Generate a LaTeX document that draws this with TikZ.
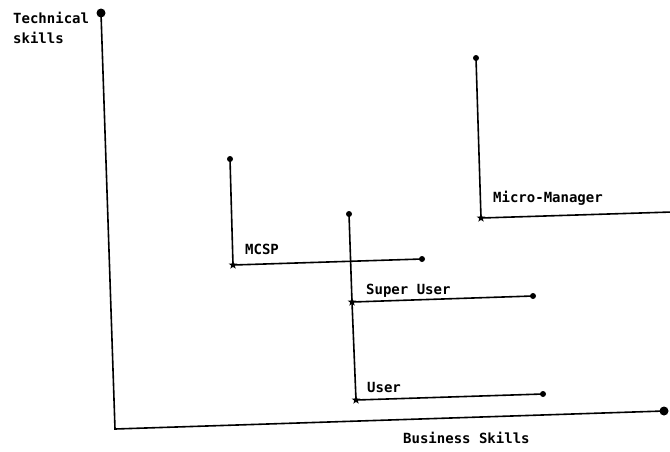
\documentclass[tikz,border=0pt]{standalone}
\usepackage{fontspec}
\setmonofont{DejaVu Sans Mono}
\usetikzlibrary{shapes.geometric}
\tikzset{
  ln/.style={line width=1.6pt, line cap=round},
  enddot/.style={circle, fill, inner sep=0pt, minimum size=6pt},
  bigdot/.style={circle, fill, inner sep=0pt, minimum size=9pt},
  origin/.style={star, star points=5, star point ratio=2.4, fill, inner sep=0pt, minimum size=9pt},
  lbl/.style={anchor=base west, inner sep=0pt, font=\ttfamily\bfseries\fontsize{14}{16}\selectfont}
}
\begin{document}
\begin{tikzpicture}[x=1pt, y=-1pt]
  \useasboundingbox (0,0) rectangle (670,451);
  % axes
  \node[bigdot] (ytop) at (101,13) {};
  \coordinate (corner) at (115,429);
  \node[bigdot] (xend) at (664,411) {};
  \draw[ln] (ytop.center) -- (corner) -- (xend.center);
  \node[lbl] (tech) at (13,23) {Technical};
  \node[lbl] (skl) at (13,43) {skills};
  \node[lbl] (bus) at (403,443) {Business Skills};

  % MCSP
  \node[origin] (mcsp) at (233,265) {};
  \node[enddot] (mcspT) at (230,159) {};
  \node[enddot] (mcspR) at (422,259) {};
  \draw[ln] (mcspT.center) -- (mcsp.center) -- (mcspR.center);
  \node[lbl] at (245,254) {MCSP};

  % Super User and User
  \node[enddot] (suT) at (349,214) {};
  \node[origin] (su) at (352,302) {};
  \node[origin] (us) at (356,400) {};
  \node[enddot] (suR) at (533,296) {};
  \node[enddot] (usR) at (543,394) {};
  \draw[ln] (suT.center) -- (su.center) -- (us.center);
  \draw[ln] (su.center) -- (suR.center);
  \draw[ln] (us.center) -- (usR.center);
  \node[lbl] at (366,294) {Super User};
  \node[lbl] at (367,392) {User};

  % Micro-Manager
  \node[origin] (mm) at (481,218) {};
  \node[enddot] (mmT) at (476,58) {};
  \coordinate (mmR) at (672,212);
  \draw[ln] (mmT.center) -- (mm.center) -- (mmR);
  \node[lbl] at (493,202) {Micro-Manager};
\end{tikzpicture}
\end{document}
